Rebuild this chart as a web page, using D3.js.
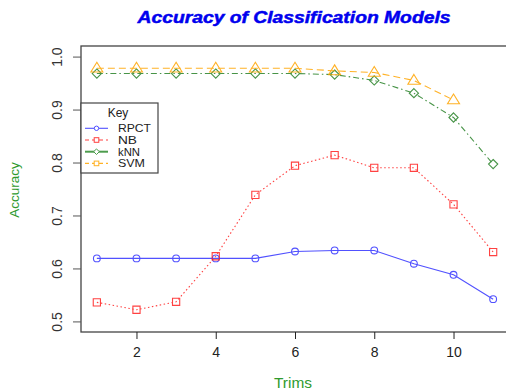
<!DOCTYPE html>
<html><head><meta charset="utf-8">
<script src="https://cdn.jsdelivr.net/npm/d3@7"></script>
<style>body{margin:0;background:#fff}svg{display:block;font-family:"Liberation Sans",Arial,sans-serif}</style>
</head><body>
<script>
const trims = [1,2,3,4,5,6,7,8,9,10,11];
const rpct = [0.619,0.619,0.619,0.619,0.619,0.632,0.634,0.634,0.609,0.588,0.542];
const nb   = [0.536,0.522,0.537,0.623,0.739,0.794,0.814,0.790,0.790,0.721,0.631];
const knn  = [0.968,0.968,0.968,0.968,0.968,0.968,0.966,0.955,0.931,0.885,0.797];
const svm  = [0.978,0.978,0.978,0.978,0.978,0.978,0.973,0.970,0.955,0.918];
const xTicks = [2,4,6,8,10];
const yTicks = [0.5,0.6,0.7,0.8,0.9,1.0];
const seriesNames = ["RPCT","NB","kNN","SVM"];

const W=506,H=392;
const svg=d3.select("body").append("svg").attr("width",W).attr("height",H);
const L=81,R=509,T=46,B=332;
const x=d3.scaleLinear().domain([0.6,11.4]).range([L,R]);
const y=d3.scaleLinear().domain([0.48,1.02]).range([B,T]);

const series=[
 {name:"RPCT",vals:rpct,color:"#3333ff",dash:null,shape:"circle",op:0.85},
 {name:"NB",vals:nb,color:"#ff2020",dash:"1.5,2.5",shape:"square",op:0.85},
 {name:"kNN",vals:knn,color:"#1a7a1a",dash:"6,3,1.5,3",shape:"diamond",op:0.8},
 {name:"SVM",vals:svm,color:"#ffa500",dash:"7,4",shape:"triangle",op:0.85}
];

// box
svg.append("rect").attr("x",L).attr("y",T).attr("width",R-L).attr("height",B-T)
 .attr("fill","none").attr("stroke","#444").attr("stroke-width",1.3);

// axes
const xa=svg.append("g").attr("transform",`translate(0,${B})`)
 .call(d3.axisBottom(x).tickValues(xTicks).tickSize(7).tickPadding(8).tickFormat(d3.format("d")));
xa.select(".domain").remove();
xa.selectAll("line").attr("stroke","#222");
xa.selectAll("text").attr("font-size",14).attr("fill","#222").attr("font-family","Liberation Sans, Arial, sans-serif");

const ya=svg.append("g").attr("transform",`translate(${L},0)`)
 .call(d3.axisLeft(y).tickValues(yTicks).tickSize(8).tickFormat(d3.format(".1f")));
ya.select(".domain").remove();
ya.selectAll("line").attr("stroke","#555");
ya.selectAll("text").attr("font-size",14).attr("fill","#333").attr("font-family","Liberation Sans, Arial, sans-serif")
 .attr("text-anchor","middle").attr("x",null).attr("dy",null)
 .attr("transform","translate(-24,0) rotate(-90)").attr("dy","0.35em");

function marker(g,shape,cx,cy,color){
  if(shape==="circle"){
    g.append("circle").attr("cx",cx).attr("cy",cy).attr("r",3.4).attr("fill","none").attr("stroke",color).attr("stroke-width",1.1); return;}
  let p;
  if(shape==="square") p=`M${cx-3.6},${cy-3.6}h7.2v7.2h-7.2Z`;
  if(shape==="diamond") p=`M${cx},${cy-4.6}L${cx+4.6},${cy}L${cx},${cy+4.6}L${cx-4.6},${cy}Z`;
  if(shape==="triangle") p=`M${cx},${cy-6}L${cx+6},${cy+3.8}L${cx-6},${cy+3.8}Z`;
  g.append("path").attr("d",p).attr("fill","none").attr("stroke",color).attr("stroke-width",1.1);
}
const line=d3.line().x((d,i)=>x(trims[i])).y(d=>y(d));
series.forEach(s=>{
  const g=svg.append("g").attr("opacity",s.op);
  g.append("path").datum(s.vals).attr("d",line).attr("fill","none").attr("stroke",s.color)
   .attr("stroke-width",1.1).attr("stroke-dasharray",s.dash);
  s.vals.forEach((v,i)=>marker(g,s.shape,x(trims[i]),y(v),s.color));
});

// legend
const lg=svg.append("g");
lg.append("rect").attr("x",81).attr("y",103).attr("width",77).attr("height",70)
 .attr("fill","#fff").attr("stroke","#444").attr("stroke-width",1.2);
lg.append("text").attr("x",118).attr("y",117).attr("text-anchor","middle").attr("font-size",12).attr("fill","#222").text("Key");
const legStyles=[
 {color:"#3333ff",dash:null,shape:"circle",w:1.1},
 {color:"#ff2020",dash:"4,3",shape:"square",w:1.1},
 {color:"#2e8b2e",dash:null,shape:"diamond",w:2},
 {color:"#ffa500",dash:"4,3",shape:"square",w:1.1}
];
const legWidths=[33,19,22,27];
seriesNames.forEach((n,i)=>{
  const yy=128.3+i*11.7, st=legStyles[i];
  const g=lg.append("g").attr("opacity",0.85);
  g.append("line").attr("x1",85).attr("x2",108).attr("y1",yy).attr("y2",yy)
   .attr("stroke",st.color).attr("stroke-width",st.w).attr("stroke-dasharray",st.dash);
  const c=96.5;
  if(st.shape==="circle") g.append("circle").attr("cx",c).attr("cy",yy).attr("r",2.2).attr("fill","#fff").attr("stroke",st.color);
  if(st.shape==="square") g.append("rect").attr("x",c-2.3).attr("y",yy-2.3).attr("width",4.6).attr("height",4.6).attr("fill","#fff").attr("stroke",st.color);
  if(st.shape==="diamond") g.append("path").attr("d",`M${c},${yy-2.8}L${c+2.8},${yy}L${c},${yy+2.8}L${c-2.8},${yy}Z`).attr("fill","#fff").attr("stroke",st.color);
  lg.append("text").attr("x",118).attr("y",yy+4).attr("font-size",10.5).attr("fill","#222")
    .attr("textLength",legWidths[i]).attr("lengthAdjust","spacingAndGlyphs").text(n);
});

// titles
svg.append("text").attr("x",294).attr("y",23).attr("text-anchor","middle")
 .attr("font-size",16.5).attr("font-weight","bold").attr("font-style","italic").attr("fill","#0000ee")
 .attr("stroke","#0000ee").attr("stroke-width",0.5)
 .attr("textLength",313).attr("lengthAdjust","spacingAndGlyphs")
 .text("Accuracy of Classification Models");
svg.append("text").attr("x",293).attr("y",388).attr("text-anchor","middle")
 .attr("font-size",14).attr("fill","#2e9a2e").attr("textLength",38).attr("lengthAdjust","spacingAndGlyphs").text("Trims");
svg.append("text").attr("transform","translate(19,190) rotate(-90)").attr("text-anchor","middle")
 .attr("font-size",13.5).attr("fill","#2e9a2e").text("Accuracy");
</script>
</body></html>
